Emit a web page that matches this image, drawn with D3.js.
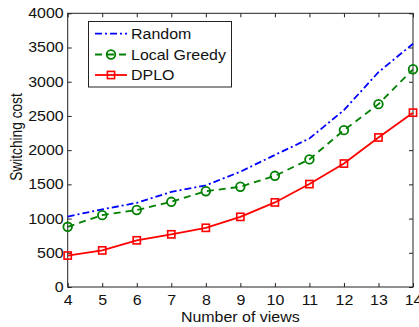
<!DOCTYPE html>
<html><head><meta charset="utf-8">
<script src="https://cdn.jsdelivr.net/npm/d3@7"></script>
<style>body{margin:0;background:#fff;} svg{display:block;font-family:"Liberation Sans",Arial,sans-serif;}</style>
</head><body>
<svg id="c" width="419" height="327"></svg>
<script>
const views = [4,5,6,7,8,9,10,11,12,13,14];
const randomCost = [1030,1135,1230,1390,1485,1685,1930,2170,2585,3140,3555];
const greedyCost = [880,1050,1125,1245,1400,1465,1625,1865,2292,2672,3182];
const dploCost = [460,535,682,770,865,1025,1236,1504,1804,2185,2548];
const xTicks = [4,5,6,7,8,9,10,11,12,13,14];
const yTicks = [0,500,1000,1500,2000,2500,3000,3500,4000];
const seriesNames = ["Random","Local Greedy","DPLO"];

const svg = d3.select("#c");
const L=67.7, R=413, T=13.3, B=287;
const SX = 1.14; // horizontal stretch of the reference's text
const x = d3.scaleLinear().domain([4,14]).range([L,R]);
const y = d3.scaleLinear().domain([0,4000]).range([B,T]);

const fs = 14;
function stretch(sel){
  sel.each(function(){
    const w = this.getComputedTextLength();
    if(w>0){ this.setAttribute("textLength", w*SX); this.setAttribute("lengthAdjust","spacingAndGlyphs"); }
  });
}
// frame
svg.append("rect").attr("x",L).attr("y",T).attr("width",R-L).attr("height",B-T)
  .attr("fill","none").attr("stroke","#222").attr("stroke-width",1);

// axes
const gx = svg.append("g").attr("transform",`translate(0,${B})`)
  .call(d3.axisBottom(x).tickValues(xTicks).tickSize(-4).tickPadding(8.5).tickFormat(d3.format("d")));
const gy = svg.append("g").attr("transform",`translate(${L},0)`)
  .call(d3.axisLeft(y).tickValues(yTicks).tickSize(-4).tickPadding(4).tickFormat(d3.format("d")));
const gxt = svg.append("g").attr("transform",`translate(0,${T})`)
  .call(d3.axisTop(x).tickValues(xTicks).tickSize(-4).tickFormat(""));
const gyr = svg.append("g").attr("transform",`translate(${R},0)`)
  .call(d3.axisRight(y).tickValues(yTicks).tickSize(-4).tickFormat(""));
[gx,gy,gxt,gyr].forEach(g=>{
  g.select(".domain").remove();
  g.selectAll("line").attr("stroke","#222");
  g.selectAll("text").attr("font-size",fs).attr("fill","#111").attr("font-family","Liberation Sans, Arial, sans-serif");
});
stretch(gx.selectAll("text"));
stretch(gy.selectAll("text"));

// labels
svg.append("text").attr("x",(L+R)/2).attr("y",321.5).attr("text-anchor","middle")
  .attr("font-size",fs).attr("fill","#111").text("Number of views").call(stretch);
svg.append("text").attr("transform",`translate(21.5,137) scale(${SX},1) rotate(-90)`).attr("text-anchor","middle")
  .attr("font-size",13.7).attr("fill","#111").text("Switching cost");

const line = d3.line().x((d,i)=>x(views[i])).y(d=>y(d));
const styles = [
  {data:randomCost, color:"#0000ff", dash:"7,3,2,3", marker:null},
  {data:greedyCost, color:"#008000", dash:"7,5", marker:"circle"},
  {data:dploCost, color:"#ff0000", dash:null, marker:"square"}
];
styles.forEach(s=>{
  svg.append("path").datum(s.data).attr("d",line).attr("fill","none")
    .attr("stroke",s.color).attr("stroke-width",1.8)
    .attr("stroke-dasharray",s.dash);
  if(s.marker==="circle"){
    svg.selectAll(null).data(s.data).enter().append("circle")
      .attr("cx",(d,i)=>x(views[i])).attr("cy",d=>y(d)).attr("r",4.3)
      .attr("fill","none").attr("stroke",s.color).attr("stroke-width",1.8);
  } else if(s.marker==="square"){
    svg.selectAll(null).data(s.data).enter().append("rect")
      .attr("x",(d,i)=>x(views[i])-3.6).attr("y",d=>y(d)-3.6).attr("width",7.2).attr("height",7.2)
      .attr("fill","none").attr("stroke",s.color).attr("stroke-width",1.6);
  }
});

// legend
const lg = svg.append("g");
lg.append("rect").attr("x",88.5).attr("y",21.5).attr("width",143).attr("height",65.5)
  .attr("fill","#fff").attr("stroke","#222").attr("stroke-width",1);
const rowsY = [33.7,54.5,75];
styles.forEach((s,i)=>{
  const yy = rowsY[i];
  lg.append("line").attr("x1",95).attr("x2",127).attr("y1",yy).attr("y2",yy)
    .attr("stroke",s.color).attr("stroke-width",1.8).attr("stroke-dasharray",s.dash);
  if(s.marker==="circle"){
    lg.append("circle").attr("cx",111).attr("cy",yy).attr("r",4.3).attr("fill","none")
      .attr("stroke",s.color).attr("stroke-width",1.8);
  } else if(s.marker==="square"){
    lg.append("rect").attr("x",111-3.6).attr("y",yy-3.6).attr("width",7.2).attr("height",7.2)
      .attr("fill","none").attr("stroke",s.color).attr("stroke-width",1.6);
  }
  lg.append("text").attr("x",131).attr("y",yy+5).attr("font-size",fs).attr("fill","#111").text(seriesNames[i]).call(stretch);
});
</script>
</body></html>
